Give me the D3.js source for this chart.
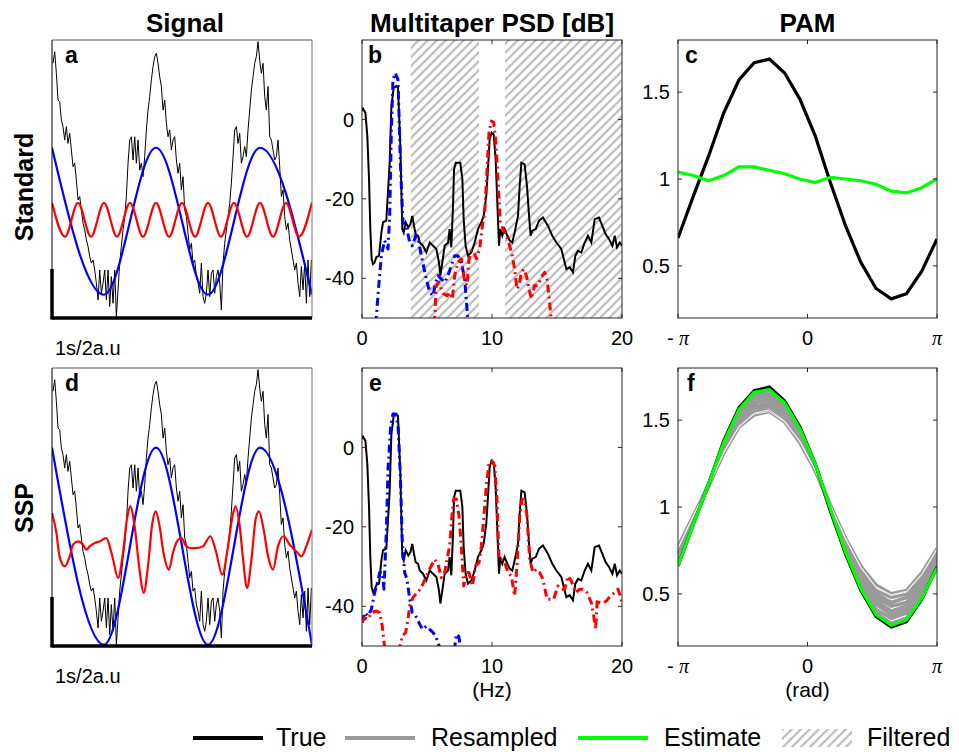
<!DOCTYPE html>
<html><head><meta charset="utf-8">
<script src="https://cdn.jsdelivr.net/npm/d3@7"></script>
<style>
body{margin:0;background:#fff;}
text{font-family:"Liberation Sans",Arial,Helvetica,sans-serif;fill:#000;}
</style>
</head><body>
<svg id="chart" width="959" height="752"></svg>
<script>
// ---------------- DATA ----------------
const colTitles = ["Signal", "Multitaper PSD [dB]", "PAM"];
const rowTitles = ["Standard", "SSP"];
const panelLetters = [["a","b","c"],["d","e","f"]];
const legendLabels = ["True", "Resampled", "Estimate", "Filtered"];
const scaleBarLabel = "1s/2a.u";
const psdTicks = [0, 10, 20];
const psdYTicks = [-40, -20, 0];
const pamYTicks = [0.5, 1, 1.5];
const pamXTicks = [-Math.PI, 0, Math.PI];
const pamXTickLabels = ["-π", "0", "π"];
const filteredBands = [[3.75, 9], [11, 20]];

// Signal (a.u.), black true trace sampled uniformly from t0 with step dt (s)
const sigT0 = 0.004, sigDt = 1 / 156;
const sigTrue = [6.40, 6.87, 5.99, 4.90, 4.83, 4.08, 3.81, 3.27, 3.81, 3.13,
 3.54, 2.86, 2.18, 2.32, 1.64, 0.82, 0.96, 0.41, -0.13, -0.40,
 -0.81, -1.08, -1.49, -1.76, -1.63, -2.04, -2.58, -3.26, -2.04, -2.99,
 -2.58, -2.04, -3.26, -2.04, -3.53, -2.31, -3.40, -2.04, -3.94, -2.85,
 -1.76, -1.08, -0.40, 0.14, 0.96, 2.32, 3.27, 3.40, 2.45, 3.40,
 2.32, 3.27, 2.04, 2.32, 1.77, 2.59, 3.68, 4.49, 5.04, 5.72,
 6.26, 6.67, 6.81, 6.40, 5.85, 5.45, 4.49, 4.90, 3.95, 3.40,
 3.68, 2.86, 3.27, 3.40, 2.45, 1.91, 2.32, 1.23, 1.77, 0.41,
 0.14, -0.54, -1.22, -0.95, -1.76, -1.63, -2.31, -2.58, -2.99, -1.76,
 -3.13, -3.40, -2.99, -2.04, -3.13, -2.17, -2.04, -2.99, -2.31, -2.04,
 -2.58, -3.67, -1.76, -0.95, -0.40, 0.14, 0.68, 1.50, 2.59, 3.68,
 3.81, 3.13, 3.54, 2.32, 2.59, 3.00, 2.59, 3.68, 4.49, 5.31,
 5.85, 6.40, 6.67, 7.28, 6.53, 5.99, 6.40, 5.04, 4.49, 5.45,
 3.40, 3.27, 2.86, 2.45, 2.59, 3.27, 2.18, 0.96, 1.23, 0.14,
 -0.40, -0.13, -0.81, -1.22, -1.63, -2.04, -1.76, -2.58, -3.13, -1.90,
 -2.85, -1.76, -3.40, -1.63, -3.13, -1.63];
// Blue (2.5 Hz) and red (10 Hz) components: extrema times and values
const blueStdT = [0, 0.2, 0.4, 0.6, 0.8, 1.0];
const blueStdV = [2.95, -3.05, 2.95, -3.05, 2.95, -3.05];
const redStdT = [0, 0.05, 0.1, 0.15, 0.2, 0.25, 0.3, 0.35, 0.4, 0.45, 0.5,
 0.55, 0.6, 0.65, 0.7, 0.75, 0.8, 0.85, 0.9, 0.95, 1.0];
const redStdV = [0.7, -0.68, 0.7, -0.68, 0.7, -0.68, 0.7, -0.68, 0.7, -0.68, 0.7,
 -0.68, 0.7, -0.68, 0.7, -0.68, 0.7, -0.68, 0.7, -0.68, 0.72];
const blueSspT = [0, 0.2, 0.4, 0.6, 0.8, 1.0];
const blueSspV = [4.1, -3.95, 4.1, -3.95, 4.1, -3.95];
const redSspT = [0, 0.017, 0.029, 0.049, 0.068, 0.081, 0.1, 0.119, 0.132, 0.145,
 0.164, 0.183, 0.209, 0.222, 0.235, 0.254, 0.273, 0.288, 0.301, 0.318,
 0.335, 0.353, 0.369, 0.386, 0.399, 0.414, 0.429, 0.45, 0.465, 0.481,
 0.497, 0.517, 0.536, 0.555, 0.581, 0.609, 0.629, 0.655, 0.677, 0.694,
 0.706, 0.722, 0.735, 0.75, 0.767, 0.783, 0.796, 0.814, 0.831, 0.85,
 0.869, 0.891, 0.914, 0.94, 0.959, 0.978, 1.0];
const redSspV = [1.43, 0.62, -0.34, -0.75, -0.34, 0.14, 0.27, 0.14, -0.07, 0.07,
 0.20, 0.27, 0.41, 0.07, -0.47, -1.22, -0.20, 1.16, 1.70, 0.88,
 -0.75, -1.83, -0.75, 1.02, 1.50, 0.88, -0.20, -0.88, -0.20, 0.27,
 0.41, 0.07, 0.0, 0.0, 0.07, 0.48, -0.07, -1.09, 0.07, 1.29,
 1.70, 0.88, -0.47, -1.63, -0.47, 1.16, 1.50, 0.75, -0.34, -0.88,
 0.07, 0.48, 0.14, -0.14, -0.34, 0.07, 0.75];

// PSD (dB) - true signal
const psdTrueF = [0, 0.08, 0.26, 0.41, 0.54, 0.64, 0.74, 0.85, 0.97, 1.10,
 1.31, 1.49, 1.62, 1.87, 2.13, 2.26, 2.44, 2.64, 2.77, 2.95,
 3.10, 3.21, 3.36, 3.56, 3.72, 3.87, 4.00, 4.13, 4.31, 4.44,
 4.69, 4.95, 5.21, 5.46, 5.72, 5.92, 6.03, 6.18, 6.36, 6.62,
 6.74, 6.87, 7.00, 7.08, 7.21, 7.56, 7.72, 7.82, 7.97, 8.15,
 8.41, 8.67, 8.92, 9.18, 9.36, 9.56, 9.72, 9.82, 9.97, 10.13,
 10.28, 10.41, 10.54, 10.64, 10.79, 10.97, 11.18, 11.36, 11.56, 11.74,
 12.0, 12.13, 12.26, 12.51, 12.69, 12.85, 12.97, 13.10, 13.36, 13.62,
 13.92, 14.31, 14.64, 14.95, 15.33, 15.72, 15.97, 16.23, 16.41, 16.62,
 16.87, 17.13, 17.38, 17.64, 17.90, 18.23, 18.49, 18.74, 19.0, 19.26,
 19.44, 19.62, 19.82, 20];
const psdTrueDb = [2.1, 2.7, 1.7, -4.2, -15, -27.6, -35.1, -36.4, -36, -34.7,
 -34.3, -28.5, -25.9, -25.5, -10.9, 3.3, 8, 8.4, 8, -6.7,
 -27.6, -28.5, -25.9, -27.2, -26.4, -24.3, -26.8, -28.9, -29.3, -31,
 -31.8, -33.5, -31, -31.8, -32.6, -36, -39.3, -36, -31.8, -31,
 -27.6, -32.2, -21.8, -12.6, -10.9, -10.9, -15, -25.1, -31.8, -34.3,
 -33.5, -31, -27.6, -25.9, -24.3, -19.2, -10.9, -5, -3.3, -3.8,
 -10, -20.9, -31.8, -27.6, -29.3, -27.6, -29.3, -30.5, -31, -28.5,
 -24.3, -16.7, -10.9, -11.3, -16.7, -24.3, -29.3, -28, -27.6, -25.5,
 -24.7, -26.8, -29.3, -31, -32.6, -37.7, -37.2, -38.5, -34.3, -33.1,
 -33.5, -31, -29.3, -31, -25.1, -24.7, -26.8, -28.9, -30.1, -31.8,
 -29.3, -32.2, -31, -31.8];
// PSD standard filtering (b)
const psdBlueStdF = [1.0, 1.10, 1.31, 1.49, 1.74, 2.0, 2.13, 2.26, 2.38, 2.56,
 2.77, 2.95, 3.15, 3.41, 3.67, 3.87, 4.13, 4.31, 4.56, 4.95,
 5.21, 5.46, 5.67, 5.85, 6.10, 6.36, 6.62, 6.87, 7.13, 7.38,
 7.64, 7.90, 8.03, 8.15, 8.3];
const psdBlueStdDb = [-56, -49.8, -41, -34.3, -30.5, -32.6, -24.3, -2.5, 10, 11.7,
 10, -10.9, -25.9, -26.8, -31, -31.8, -29.3, -29.7, -34.3, -40.2,
 -43.5, -44.4, -41, -39.3, -40.2, -41, -39.3, -36.8, -34.3, -34.3,
 -36, -40.2, -46, -50.2, -56];
const psdRedStdF = [5.45, 5.59, 5.72, 5.92, 6.10, 6.28, 6.54, 6.74, 6.95, 7.13,
 7.38, 7.64, 7.90, 8.08, 8.23, 8.41, 8.59, 8.79, 9.05, 9.26,
 9.44, 9.62, 9.77, 9.95, 10.13, 10.28, 10.46, 10.64, 10.85, 11.10,
 11.36, 11.56, 11.74, 11.92, 12.08, 12.26, 12.44, 12.64, 12.85, 13.03,
 13.28, 13.54, 13.79, 14.05, 14.23, 14.38, 14.54, 14.7];
const psdRedStdDb = [-56, -49.8, -41.8, -41, -42.7, -43.9, -44.4, -43.5, -45.2, -39.3,
 -36, -35.1, -41, -41.8, -35.1, -33.1, -33.1, -35.1, -32.6, -26.8,
 -23.4, -12.6, -3.3, -0.4, -0.8, -5, -15, -25.9, -27.6, -29.3,
 -31.8, -34.3, -37.7, -42.7, -41.8, -38.5, -37.7, -39.3, -42.7, -45.2,
 -41.8, -41.8, -39.7, -38.5, -40.2, -44.4, -49.8, -56];
// PSD SSP (e)
const psdBlueSspF = [0, 0.21, 0.46, 0.72, 0.97, 1.23, 1.36, 1.56, 1.69, 1.87,
 2.0, 2.21, 2.38, 2.59, 2.77, 2.95, 3.10, 3.28, 3.46, 3.67,
 3.87, 4.13, 4.38, 4.64, 4.95, 5.21, 5.46, 5.67, 5.85, 5.97,
 6.3, 6.9, 7.13, 7.26, 7.44, 7.59, 7.8];
const psdBlueSspDb = [-44.1, -41.6, -42.4, -40.8, -36.6, -33.6, -31.5, -31.5, -35.7, -21.4,
 -5.5, 5.5, 8.4, 8.4, 5.5, -7.1, -23.9, -31.5, -33.2, -38.2,
 -41.6, -42.4, -44.1, -45.8, -45, -45.8, -46.6, -47.5, -49.2, -50.4,
 -56, -56, -50.4, -47, -47.5, -50.4, -56];
const psdRedSspF = [0, 0.21, 0.46, 0.72, 1.10, 1.36, 1.56, 1.74, 2.1, 2.6,
 2.90, 3.10, 3.36, 3.54, 3.67, 3.92, 4.23, 4.49, 4.74, 5.08,
 5.33, 5.59, 5.85, 6.10, 6.36, 6.54, 6.74, 6.92, 7.05, 7.26,
 7.46, 7.64, 7.82, 8.03, 8.23, 8.49, 8.74, 9.0, 9.18, 9.36,
 9.56, 9.77, 10.0, 10.21, 10.38, 10.54, 10.72, 10.97, 11.23, 11.49,
 11.74, 11.92, 12.13, 12.31, 12.51, 12.69, 12.90, 13.15, 13.41, 13.67,
 13.92, 14.23, 14.49, 14.74, 15.08, 15.33, 15.59, 15.85, 16.10, 16.44,
 16.74, 17.05, 17.31, 17.64, 17.82, 17.97, 18.10, 18.28, 18.54, 18.79,
 19.10, 19.44, 19.69, 19.87, 20];
const psdRedSspDb = [-44.1, -42.9, -43.3, -41.6, -41.2, -41.6, -45, -50.4, -56, -56,
 -50.4, -47.5, -46.6, -43.3, -39.9, -37.8, -36.6, -35.7, -34, -31.5,
 -29.8, -28.2, -29.4, -32.8, -31.5, -28.2, -24.8, -17.2, -13, -13,
 -17.2, -24.8, -34.9, -31.5, -31.5, -34.9, -29.8, -29, -24.8, -18.1,
 -9.7, -3.8, -3.4, -4.6, -13, -28.2, -28.2, -29, -31.5, -32.4,
 -37.4, -29.8, -17.2, -13, -13.4, -17.2, -28.2, -31.5, -30.7, -31.5,
 -33.2, -38.2, -38.2, -38.2, -34.9, -35.7, -35.7, -32.4, -33.6, -36.6,
 -35.7, -35.7, -36.6, -39.1, -42.4, -45.8, -38.2, -39.1, -39.1, -38.7,
 -37.4, -36.6, -35.7, -37.4, -39.1];

// PAM (phase-amplitude modulation)
const pamPhase = [-3.1416, -2.7720, -2.4024, -2.0328, -1.6632, -1.2936, -0.9240, -0.5544, -0.1848,
 0.1848, 0.5544, 0.9240, 1.2936, 1.6632, 2.0328, 2.4024, 2.7720, 3.1416];
const pamTrue = [0.66, 0.90, 1.13, 1.38, 1.57, 1.67, 1.69, 1.61, 1.46, 1.25, 0.98, 0.73, 0.52, 0.37, 0.31, 0.34, 0.47, 0.655];
const pamEstStd = [1.04, 1.02, 0.99, 1.02, 1.07, 1.07, 1.05, 1.03, 1.00, 0.98, 1.01, 1.00, 0.99, 0.97, 0.93, 0.92, 0.95, 1.00];
const pamEstSsp = [0.66, 0.90, 1.13, 1.37, 1.56, 1.66, 1.675, 1.60, 1.45, 1.25, 0.99, 0.74, 0.53, 0.38, 0.32, 0.35, 0.475, 0.65];
const pamResampled = [
 [0.67, 0.91, 1.13, 1.37, 1.56, 1.65, 1.67, 1.60, 1.45, 1.25, 0.98, 0.74, 0.54, 0.39, 0.33, 0.36, 0.49, 0.67],
 [0.69, 0.91, 1.13, 1.36, 1.54, 1.64, 1.65, 1.58, 1.44, 1.24, 0.99, 0.75, 0.55, 0.41, 0.36, 0.39, 0.51, 0.68],
 [0.70, 0.92, 1.13, 1.35, 1.53, 1.62, 1.64, 1.56, 1.43, 1.24, 0.99, 0.76, 0.57, 0.44, 0.38, 0.41, 0.53, 0.70],
 [0.71, 0.92, 1.13, 1.35, 1.51, 1.60, 1.62, 1.55, 1.42, 1.23, 0.99, 0.77, 0.59, 0.46, 0.40, 0.43, 0.55, 0.71],
 [0.73, 0.93, 1.13, 1.34, 1.50, 1.58, 1.60, 1.53, 1.41, 1.23, 1.00, 0.79, 0.61, 0.48, 0.43, 0.45, 0.56, 0.72],
 [0.74, 0.94, 1.12, 1.33, 1.49, 1.57, 1.58, 1.52, 1.40, 1.22, 1.00, 0.80, 0.62, 0.50, 0.45, 0.48, 0.58, 0.74],
 [0.75, 0.94, 1.12, 1.32, 1.47, 1.55, 1.57, 1.50, 1.38, 1.22, 1.01, 0.81, 0.64, 0.52, 0.48, 0.50, 0.60, 0.75],
 [0.77, 0.95, 1.12, 1.31, 1.46, 1.53, 1.55, 1.49, 1.37, 1.21, 1.01, 0.82, 0.66, 0.55, 0.50, 0.52, 0.62, 0.76]];
const pamResampledLight = [
 [0.76, 0.945, 1.12, 1.315, 1.465, 1.54, 1.56, 1.495, 1.38, 1.215, 1.01, 0.815, 0.65, 0.535, 0.49, 0.51, 0.61, 0.755],
 [0.765, 0.95, 1.12, 1.31, 1.46, 1.535, 1.55, 1.49, 1.375, 1.21, 1.01, 0.82, 0.655, 0.54, 0.495, 0.515, 0.615, 0.76]];

// ---------------- LAYOUT ----------------
const svg = d3.select("#chart");
const defs = svg.append("defs");
const colX = [[52, 312], [362, 622], [678, 937]];
const rowY = [[40, 318], [368, 646]];
const BLUE = "#0000ff", RED = "#ff0000", GREEN = "#00ff00", GRAY = "#9a9a9a";
const FRAME = "#262626";

const pat = defs.append("pattern").attr("id", "hatch").attr("patternUnits", "userSpaceOnUse")
  .attr("width", 9).attr("height", 9);
pat.append("path").attr("d", "M-2,2 l4,-4 M0,9 l9,-9 M7,11 l4,-4")
  .attr("stroke", "#c2c2c2").attr("stroke-width", 2.3);

function clipFor(id, c, r) {
  defs.append("clipPath").attr("id", id).append("rect")
    .attr("x", colX[c][0]).attr("y", rowY[r][0])
    .attr("width", colX[c][1] - colX[c][0]).attr("height", rowY[r][1] - rowY[r][0]);
  return "url(#" + id + ")";
}

// titles
colTitles.forEach((t, i) => {
  svg.append("text").attr("x", (colX[i][0] + colX[i][1]) / 2 + (i === 0 ? 3 : 0)).attr("y", 32)
    .attr("text-anchor", "middle").attr("font-size", 26).attr("font-weight", "bold").text(t);
});
const rowLabelY = [187, 508];
rowTitles.forEach((t, i) => {
  svg.append("text").attr("transform", `translate(33,${rowLabelY[i]}) rotate(-90)`)
    .attr("text-anchor", "middle").attr("font-size", 25).attr("font-weight", "bold").text(t);
});

const letterDx = [[13, 6, 7], [13, 7, 9]];
function letter(c, r) {
  svg.append("text").attr("x", colX[c][0] + letterDx[r][c]).attr("y", rowY[r][0] + 23)
    .attr("font-size", 23).attr("font-weight", "bold").text(panelLetters[r][c]);
}

function boxAxes(c, r, x, y, xt, xtl, yt, ytl, isPi) {
  const [x0, x1] = colX[c], [y0, y1] = rowY[r];
  const g = svg.append("g");
  g.append("rect").attr("x", x0).attr("y", y0).attr("width", x1 - x0).attr("height", y1 - y0)
    .attr("fill", "none").attr("stroke", FRAME).attr("stroke-width", 1);
  xt.forEach((v, i) => {
    const px = x(v);
    g.append("line").attr("x1", px).attr("x2", px).attr("y1", y1).attr("y2", y1 - 4).attr("stroke", FRAME);
    g.append("line").attr("x1", px).attr("x2", px).attr("y1", y0).attr("y2", y0 + 4).attr("stroke", FRAME);
    const t = g.append("text").attr("x", px).attr("y", y1 + 27).attr("text-anchor", "middle").attr("font-size", 20);
    const lab = xtl[i];
    if (isPi && lab.includes("π")) {
      const pre = lab.replace("π", "");
      if (pre) t.append("tspan").text(pre + " ");
      t.append("tspan").attr("font-family", "'Liberation Serif','DejaVu Serif',serif").attr("font-style", "italic").text("π");
    } else t.text(lab);
  });
  yt.forEach((v, i) => {
    const py = y(v);
    g.append("line").attr("x1", x0).attr("x2", x0 + 4).attr("y1", py).attr("y2", py).attr("stroke", FRAME);
    g.append("line").attr("x1", x1).attr("x2", x1 - 4).attr("y1", py).attr("y2", py).attr("stroke", FRAME);
    g.append("text").attr("x", x0 - 8).attr("y", py).attr("dy", "0.36em").attr("text-anchor", "end")
      .attr("font-size", 20).text(ytl[i]);
  });
}

// ---------------- SIGNAL PANELS ----------------
[0, 1].forEach(r => {
  const [x0, x1] = colX[0], [y0, y1] = rowY[r];
  const xs = d3.scaleLinear().domain([0, 1]).range([x0, x1]);
  const ys = d3.scaleLinear().domain([-4, 7.35]).range([y1, y0]);
  const clip = clipFor("clipSig" + r, 0, r);
  const g = svg.append("g").attr("clip-path", clip);
  const lineTrue = d3.line().x((d, i) => xs(sigT0 + i * sigDt)).y(d => ys(d));
  g.append("path").attr("d", lineTrue(sigTrue)).attr("fill", "none").attr("stroke", "#000").attr("stroke-width", 1);
  const bt = r === 0 ? blueStdT : blueSspT, bv = r === 0 ? blueStdV : blueSspV;
  const rt = r === 0 ? redStdT : redSspT, rv = r === 0 ? redStdV : redSspV;
  const lm = d3.line().curve(d3.curveMonotoneX).x(d => xs(d[0])).y(d => ys(d[1]));
  g.append("path").attr("d", lm(bt.map((t, i) => [t, bv[i]]))).attr("fill", "none").attr("stroke", BLUE).attr("stroke-width", 2.2);
  g.append("path").attr("d", lm(rt.map((t, i) => [t, rv[i]]))).attr("fill", "none").attr("stroke", RED).attr("stroke-width", 2.2);
  svg.append("line").attr("x1", x0).attr("x2", x1).attr("y1", y0).attr("y2", y0).attr("stroke", "#555");
  svg.append("line").attr("x1", x1).attr("x2", x1).attr("y1", y0).attr("y2", y1).attr("stroke", "#777");
  svg.append("line").attr("x1", x0).attr("x2", x0).attr("y1", y0).attr("y2", y1).attr("stroke", "#000").attr("stroke-width", 1);
  svg.append("line").attr("x1", xs(0)).attr("x2", xs(1)).attr("y1", y1).attr("y2", y1)
    .attr("stroke", "#000").attr("stroke-width", 3.5);
  svg.append("line").attr("x1", x0).attr("x2", x0).attr("y1", ys(-4) + 1.5).attr("y2", ys(-2))
    .attr("stroke", "#000").attr("stroke-width", 3.5);
  svg.append("text").attr("x", x0 + 3).attr("y", y1 + 37).attr("font-size", 20).text(scaleBarLabel);
  letter(0, r);
});

// ---------------- PSD PANELS ----------------
const dashDot = "8,4,2,4";
[0, 1].forEach(r => {
  const [x0, x1] = colX[1], [y0, y1] = rowY[r];
  const xs = d3.scaleLinear().domain([0, 20]).range([x0, x1]);
  const ys = d3.scaleLinear().domain([-50, 20]).range([y1, y0]);
  const clip = clipFor("clipPsd" + r, 1, r);
  const g = svg.append("g").attr("clip-path", clip);
  if (r === 0) {
    filteredBands.forEach(b => {
      g.append("rect").attr("x", xs(b[0])).attr("y", y0).attr("width", xs(b[1]) - xs(b[0])).attr("height", y1 - y0)
        .attr("fill", "url(#hatch)");
    });
  }
  const line = d3.line().x(d => xs(d[0])).y(d => ys(d[1]));
  const pair = (f, v) => f.map((ff, i) => [ff, v[i]]);
  g.append("path").attr("d", line(pair(psdTrueF, psdTrueDb))).attr("fill", "none").attr("stroke", "#000").attr("stroke-width", 2);
  const bf = r === 0 ? psdBlueStdF : psdBlueSspF, bd = r === 0 ? psdBlueStdDb : psdBlueSspDb;
  const rf = r === 0 ? psdRedStdF : psdRedSspF, rd = r === 0 ? psdRedStdDb : psdRedSspDb;
  g.append("path").attr("d", line(pair(bf, bd))).attr("fill", "none").attr("stroke", BLUE).attr("stroke-width", 3)
    .attr("stroke-dasharray", dashDot).attr("stroke-linejoin", "round");
  g.append("path").attr("d", line(pair(rf, rd))).attr("fill", "none").attr("stroke", RED).attr("stroke-width", 3)
    .attr("stroke-dasharray", dashDot).attr("stroke-linejoin", "round");
  boxAxes(1, r, xs, ys, psdTicks, psdTicks.map(String), psdYTicks, psdYTicks.map(String), false);
  letter(1, r);
  if (r === 1) svg.append("text").attr("x", (x0 + x1) / 2).attr("y", y1 + 51).attr("text-anchor", "middle").attr("font-size", 21).text("(Hz)");
});

// ---------------- PAM PANELS ----------------
[0, 1].forEach(r => {
  const [x0, x1] = colX[2], [y0, y1] = rowY[r];
  const xs = d3.scaleLinear().domain([-Math.PI, Math.PI]).range([x0, x1]);
  const ys = d3.scaleLinear().domain([0.2, 1.8]).range([y1, y0]);
  const clip = clipFor("clipPam" + r, 2, r);
  const g = svg.append("g").attr("clip-path", clip);
  const line = d3.line().x((d, i) => xs(pamPhase[i])).y(d => ys(d));
  if (r === 1) {
    pamResampled.forEach(c => g.append("path").attr("d", line(c)).attr("fill", "none").attr("stroke", GRAY).attr("stroke-width", 3.6));
    pamResampledLight.forEach(c => g.append("path").attr("d", line(c)).attr("fill", "none").attr("stroke", "#fff").attr("stroke-width", 0.8));
  }
  g.append("path").attr("d", line(pamTrue)).attr("fill", "none").attr("stroke", "#000").attr("stroke-width", 3.2);
  g.append("path").attr("d", line(r === 0 ? pamEstStd : pamEstSsp)).attr("fill", "none").attr("stroke", GREEN).attr("stroke-width", 3.2);
  boxAxes(2, r, xs, ys, pamXTicks, pamXTickLabels, pamYTicks, pamYTicks.map(String), true);
  letter(2, r);
  if (r === 1) svg.append("text").attr("x", (x0 + x1) / 2).attr("y", y1 + 51).attr("text-anchor", "middle").attr("font-size", 21).text("(rad)");
});

// ---------------- LEGEND ----------------
const lg = svg.append("g");
const legY = 738;
const legItems = [
  {x: 193, tx: 276, type: "line", color: "#000"},
  {x: 345, tx: 431, type: "line", color: GRAY},
  {x: 578, tx: 664, type: "line", color: GREEN},
  {x: 782, tx: 867, type: "hatch"}
];
legItems.forEach((it, i) => {
  if (it.type === "line") {
    lg.append("line").attr("x1", it.x).attr("x2", it.x + 70).attr("y1", legY).attr("y2", legY)
      .attr("stroke", it.color).attr("stroke-width", 4);
  } else {
    lg.append("rect").attr("x", it.x).attr("y", legY - 9).attr("width", 70).attr("height", 18).attr("fill", "url(#hatch)");
  }
  lg.append("text").attr("x", it.tx).attr("y", legY + 8).attr("font-size", 25).text(legendLabels[i]);
});
</script>
</body></html>
